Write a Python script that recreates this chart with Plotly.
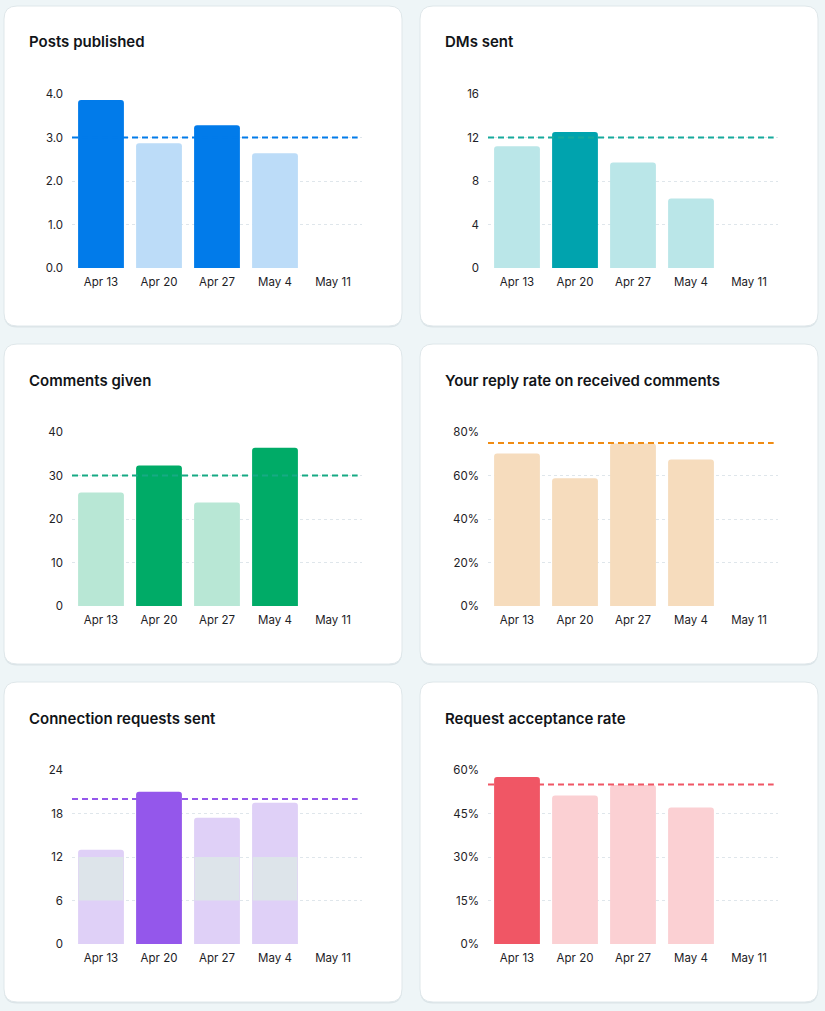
import plotly.graph_objects as go

W, H = 825, 1011

weeks = ["Apr 13", "Apr 20", "Apr 27", "May 4", "May 11"]

titles = ["Posts published", "DMs sent", "Comments given",
          "Your reply rate on received comments", "Connection requests sent",
          "Request acceptance rate"]

posts = [3.86, 2.87, 3.28, 2.64, None]
dms = [11.2, 12.5, 9.7, 6.4, None]
comments = [26.1, 32.3, 23.8, 36.4, None]
reply_rate = [70.1, 58.7, 74.7, 67.4, None]
conn_requests = [13.0, 21.0, 17.4, 19.5, None]
accept_rate = [57.6, 51.2, 54.8, 47.1, None]

targets = [3.0, 12, 30, 75, 20, 55]

# grey band overlay seen on connection-request bars (base 6, height 6)
band_base = [6, None, 6, 6, None]
band_height = [6, None, 6, 6, None]

y_ranges = [(0, 4), (0, 16), (0, 40), (0, 80), (0, 24), (0, 60)]
y_dticks = [1, 4, 10, 20, 6, 15]
y_formats = [".1f", "d", "d", "d", "d", "d"]
y_suffix = ["", "", "", "%", "", "%"]

dark_colors = ["#017bea", "#00a3ae", "#00ab67", "#f0a050", "#9457eb", "#f05665"]
light_colors = ["#bcdcf8", "#bae6e8", "#b8e7d5", "#f6dcbd", "#dfd0f7", "#fbd0d3"]
line_colors = ["#017bea", "#16aa9c", "#16aa84", "#f08c14", "#9457eb", "#f05665"]

series = [posts, dms, comments, reply_rate, conn_requests, accept_rate]

# layout geometry (pixels)
card_x = [(4, 402), (420, 818)]
card_y = [(6, 326), (344, 664), (682, 1002)]
plot_x = [(72, 362), (488, 778)]
plot_y = [(94, 268), (432, 606), (770, 944)]

def px(x):
    return x / W

def py(y):
    return 1 - y / H

fig = go.Figure()
shapes = []
annotations = []

def rounded_path(x0, y0, x1, y1, r):
    rx, ry = r / W, r / H
    X0, X1 = px(x0), px(x1)
    Yt, Yb = py(y0), py(y1)
    return (f"M{X0 + rx},{Yt} L{X1 - rx},{Yt} Q{X1},{Yt} {X1},{Yt - ry} "
            f"L{X1},{Yb + ry} Q{X1},{Yb} {X1 - rx},{Yb} "
            f"L{X0 + rx},{Yb} Q{X0},{Yb} {X0},{Yb + ry} "
            f"L{X0},{Yt - ry} Q{X0},{Yt} {X0 + rx},{Yt} Z")

for i in range(6):
    row, col = i // 2, i % 2
    cx0, cx1 = card_x[col]
    cy0, cy1 = card_y[row]
    shapes.append(dict(type="path", xref="paper", yref="paper",
                       path=rounded_path(cx0, cy0 + 1.5, cx1, cy1 + 1.5, 13),
                       fillcolor="#dbe4e8", line=dict(width=0), layer="below"))
    shapes.append(dict(type="path", xref="paper", yref="paper",
                       path=rounded_path(cx0, cy0, cx1, cy1, 13),
                       fillcolor="#ffffff", line=dict(color="#dfe7ea", width=1),
                       layer="below"))
    annotations.append(dict(text=titles[i], xref="paper", yref="paper",
                            x=px(cx0 + 23), y=py(cy0 + 36), xanchor="left",
                            yanchor="middle", showarrow=False,
                            font=dict(family="Inter", size=15, color="#111418",
                                      weight=600)))

    n = i + 1
    xa = "x" if n == 1 else f"x{n}"
    ya = "y" if n == 1 else f"y{n}"
    vals = series[i]
    t = targets[i]
    colors = [dark_colors[i] if (v is not None and v >= t) else light_colors[i]
              for v in vals]
    fig.add_trace(go.Bar(x=weeks, y=vals, xaxis=xa, yaxis=ya,
                         marker=dict(color=colors, cornerradius=3, line=dict(width=0)),
                         width=0.79, showlegend=False, hoverinfo="skip"))
    if i == 4:
        fig.add_trace(go.Bar(x=weeks, y=band_height, base=band_base, xaxis=xa,
                             yaxis=ya, marker=dict(color="#dde4ea", line=dict(width=0)),
                             width=0.77, showlegend=False, hoverinfo="skip"))
    shapes.append(dict(type="line", xref=f"{xa} domain", yref=ya, x0=0, x1=0.985,
                       y0=t, y1=t, line=dict(color=line_colors[i], width=2,
                                             dash="6px,4px"), layer="above"))

    axis_common = dict(showline=False, zeroline=False, automargin=False,
                       tickfont=dict(family="Inter", size=11.5, color="#1d2126"))
    xkey = "xaxis" if n == 1 else f"xaxis{n}"
    ykey = "yaxis" if n == 1 else f"yaxis{n}"
    fig.update_layout(**{
        xkey: dict(domain=[px(plot_x[col][0]), px(plot_x[col][1])], anchor=ya,
                   showgrid=False, ticks="", ticklabelstandoff=5,
                   categoryorder="array", categoryarray=weeks, fixedrange=True,
                   **axis_common),
        ykey: dict(domain=[py(plot_y[row][1]), py(plot_y[row][0])], anchor=xa,
                   range=list(y_ranges[i]), dtick=y_dticks[i], tick0=0,
                   tickformat=y_formats[i], ticksuffix=y_suffix[i],
                   showgrid=True, gridcolor="#dfe6eb", gridwidth=1,
                   griddash="3px,3px", ticks="", ticklabelstandoff=8,
                   fixedrange=True, **axis_common),
    })

fig.update_layout(width=W, height=H, margin=dict(l=0, r=0, t=0, b=0, pad=0),
                  paper_bgcolor="#eef5f7", plot_bgcolor="rgba(0,0,0,0)",
                  barmode="overlay", shapes=shapes, annotations=annotations,
                  font=dict(family="Inter"))

fig.write_html("out.html", config={"displayModeBar": False})
